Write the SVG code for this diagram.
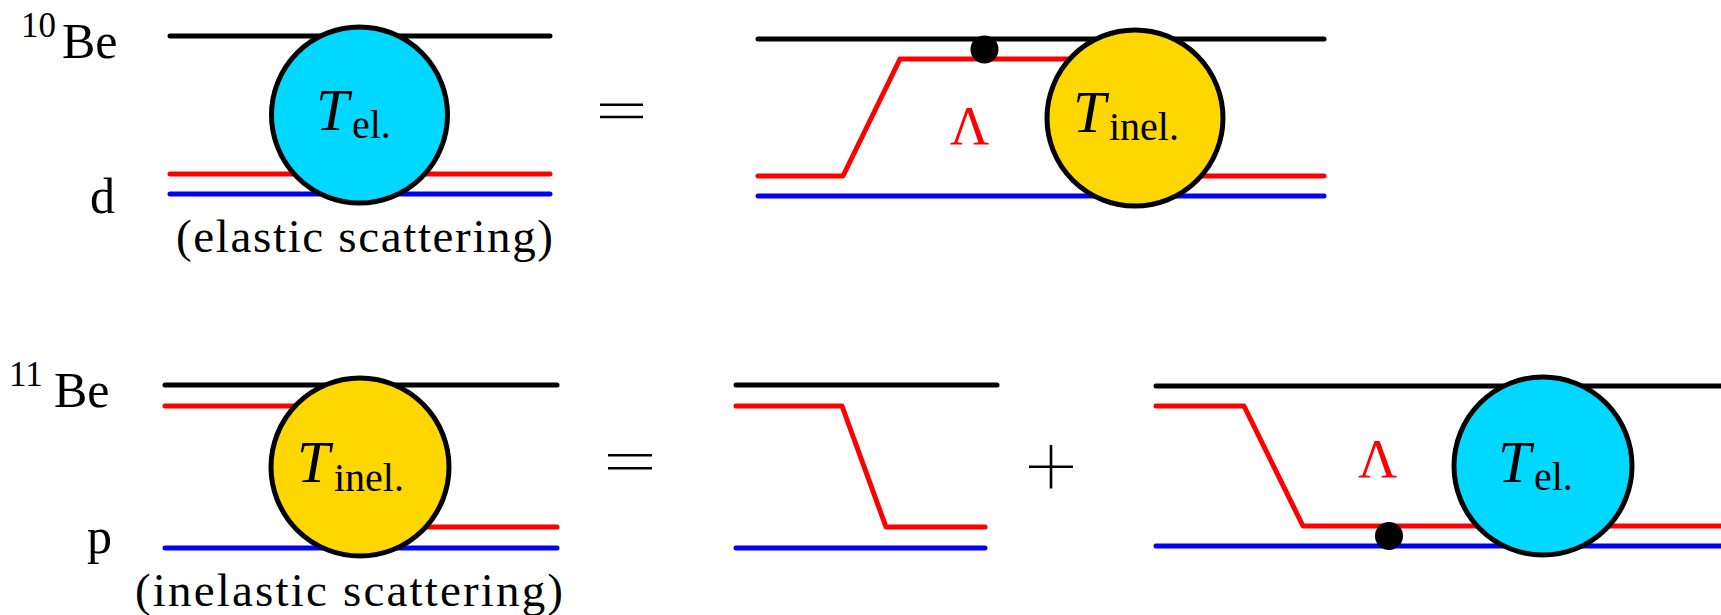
<svg xmlns="http://www.w3.org/2000/svg" width="1721" height="615" viewBox="0 0 1721 615">
<style>
.ln{fill:none;stroke-width:5;stroke-linecap:round;stroke-linejoin:round}
.k{stroke:#000}.r{stroke:#FF0000}.b{stroke:#0000FF}
.blob{stroke:#000;stroke-width:5}
.cy{fill:#00D8FF}.ye{fill:#FFD700}
text{font-family:"Liberation Serif","DejaVu Serif","Times New Roman",serif}
.txt{fill:#000}
.main{font-size:47px}
.lbl{font-size:50px}
.sup{font-size:35px}
.T{font-size:59px;font-style:italic}
.sub{font-size:40px}
.lam{font-size:54px;fill:#FF0000}
.op{stroke:#000;stroke-width:2.6}
</style>
<rect width="1721" height="615" fill="#fff"/>
<g id="connectors">
<line class="ln k" x1="170" y1="36" x2="550" y2="36"/>
<line class="ln r" x1="170" y1="174" x2="550" y2="174"/>
<line class="ln b" x1="170" y1="194" x2="550" y2="194"/>
<line class="ln k" x1="758" y1="39" x2="1324" y2="39"/>
<path class="ln r" d="M758,176 L843,176 L900,59 L1100,59 L1170,176 L1324,176"/>
<line class="ln b" x1="758" y1="196" x2="1324" y2="196"/>
<line class="ln k" x1="165" y1="385" x2="557" y2="385"/>
<line class="ln r" x1="165" y1="406" x2="330" y2="406"/>
<line class="ln r" x1="400" y1="527" x2="557" y2="527"/>
<line class="ln b" x1="165" y1="548" x2="557" y2="548"/>
<line class="ln k" x1="736" y1="385" x2="997" y2="385"/>
<path class="ln r" d="M736,406 L842,406 L886,527 L985,527"/>
<line class="ln b" x1="736" y1="548" x2="985" y2="548"/>
<line class="ln k" x1="1156" y1="386" x2="1730" y2="386"/>
<path class="ln r" d="M1156,406 L1244,406 L1303,526 L1730,526"/>
<line class="ln b" x1="1156" y1="546" x2="1730" y2="546"/>
</g>
<g id="node-tel-top">
<circle class="blob cy" cx="359.5" cy="115" r="88"/>
<text class="txt T" x="316" y="130">T</text>
<text class="txt sub" x="352" y="138">el.</text>
</g>
<g id="node-dot-top">
<circle cx="984.5" cy="49.5" r="14" fill="#000"/>
</g>
<g id="node-lambda-top">
<text class="lam" x="950" y="144">Λ</text>
</g>
<g id="node-tinel-top">
<circle class="blob ye" cx="1135" cy="118" r="88"/>
<text class="txt T" x="1073" y="131.5">T</text>
<text class="txt sub" x="1109" y="140">inel.</text>
</g>
<g id="node-tinel-bottom">
<circle class="blob ye" cx="360" cy="467" r="89"/>
<text class="txt T" x="297" y="481.5">T</text>
<text class="txt sub" x="334" y="490.5">inel.</text>
</g>
<g id="node-dot-bottom">
<circle cx="1389" cy="536" r="14" fill="#000"/>
</g>
<g id="node-lambda-bottom">
<text class="lam" x="1358" y="477">Λ</text>
</g>
<g id="node-tel-bottom">
<circle class="blob cy" cx="1543" cy="466" r="89"/>
<text class="txt T" x="1498" y="481.5">T</text>
<text class="txt sub" x="1534" y="490">el.</text>
</g>
<g id="labels">
<text class="txt sup" x="21" y="37">10</text>
<text class="txt lbl" x="62" y="58">Be</text>
<text class="txt lbl" x="90" y="213">d</text>
<text class="txt main" x="176" y="252" textLength="377">(elastic scattering)</text>
<text class="txt sup" x="9" y="386">11</text>
<text class="txt lbl" x="54" y="407">Be</text>
<text class="txt lbl" x="87" y="553">p</text>
<text class="txt main" x="135" y="606" textLength="428">(inelastic scattering)</text>
</g>
<g id="operators">
<line class="op" x1="600" y1="104.7" x2="643" y2="104.7"/>
<line class="op" x1="600" y1="117" x2="643" y2="117"/>
<line class="op" x1="608" y1="455.3" x2="652" y2="455.3"/>
<line class="op" x1="608" y1="468.3" x2="652" y2="468.3"/>
<line class="op" x1="1029" y1="466.7" x2="1073" y2="466.7"/>
<line class="op" x1="1051" y1="445" x2="1051" y2="488.5"/>
</g>
</svg>
